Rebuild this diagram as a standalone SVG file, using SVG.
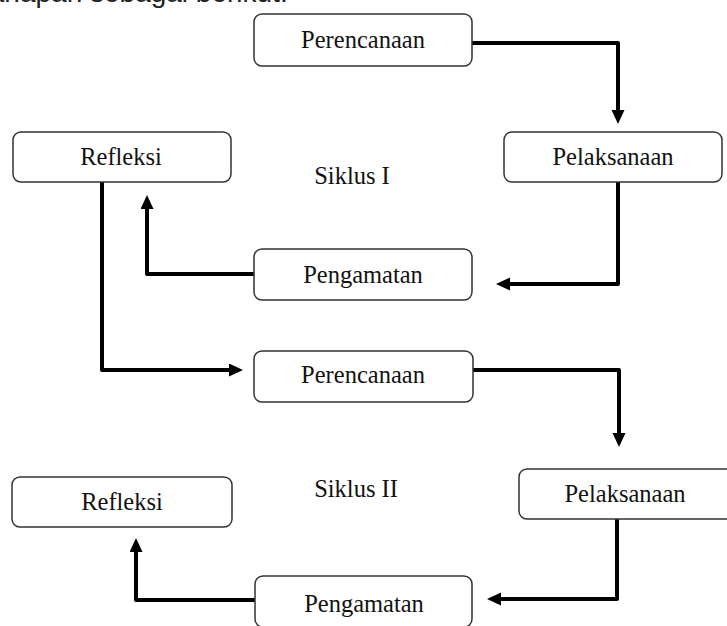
<svg xmlns="http://www.w3.org/2000/svg" width="727" height="626" viewBox="0 0 727 626">
<style>
.box{fill:#fff;stroke:#333;stroke-width:1.5}
.lbl{font-family:"Liberation Serif","Times New Roman",serif;font-size:24.5px;fill:#111;text-anchor:middle}
.con{fill:none;stroke:#000;stroke-width:4;stroke-linejoin:round}
.top{font-family:"Liberation Sans",Arial,sans-serif;font-size:28px;fill:#222}
</style>
<defs>
<marker id="ah" markerUnits="userSpaceOnUse" markerWidth="16" markerHeight="14" refX="0" refY="6.5" orient="auto">
<path d="M0,0 L14,6.5 L0,13 z" fill="#000"/>
</marker>
</defs>
<rect width="727" height="626" fill="#fff"/>
<text class="top" x="-19" y="2">tahapan sebagai berikut:</text>
<g id="connectors">
<path class="con" d="M472,43 H618 V110" marker-end="url(#ah)"/>
<path class="con" d="M618,182 V284 H510" marker-end="url(#ah)"/>
<path class="con" d="M254,274 H147 V209" marker-end="url(#ah)"/>
<path class="con" d="M102,182 V370 H229" marker-end="url(#ah)"/>
<path class="con" d="M473,370 H619 V433" marker-end="url(#ah)"/>
<path class="con" d="M617,519 V599 H501" marker-end="url(#ah)"/>
<path class="con" d="M255,600 H136 V552" marker-end="url(#ah)"/>
</g>
<g id="perencanaan1"><rect class="box" x="254" y="14" width="218" height="52" rx="8"/><text class="lbl" x="363" y="48">Perencanaan</text></g>
<g id="pelaksanaan1"><rect class="box" x="504" y="132" width="218" height="50" rx="8"/><text class="lbl" x="613" y="165">Pelaksanaan</text></g>
<g id="pengamatan1"><rect class="box" x="254" y="249" width="218" height="51" rx="8"/><text class="lbl" x="363" y="283">Pengamatan</text></g>
<g id="refleksi1"><rect class="box" x="13" y="132" width="218" height="50" rx="8"/><text class="lbl" x="121" y="165">Refleksi</text></g>
<g id="siklus1"><text class="lbl" x="352" y="184">Siklus I</text></g>
<g id="perencanaan2"><rect class="box" x="254" y="351" width="219" height="51" rx="8"/><text class="lbl" x="363" y="383">Perencanaan</text></g>
<g id="pelaksanaan2"><rect class="box" x="519" y="469" width="218" height="50" rx="8"/><text class="lbl" x="625" y="502">Pelaksanaan</text></g>
<g id="pengamatan2"><rect class="box" x="255" y="576" width="217" height="51" rx="8"/><text class="lbl" x="364" y="612">Pengamatan</text></g>
<g id="refleksi2"><rect class="box" x="12" y="477" width="220" height="50" rx="8"/><text class="lbl" x="122" y="510">Refleksi</text></g>
<g id="siklus2"><text class="lbl" x="356" y="497">Siklus II</text></g>
</svg>
